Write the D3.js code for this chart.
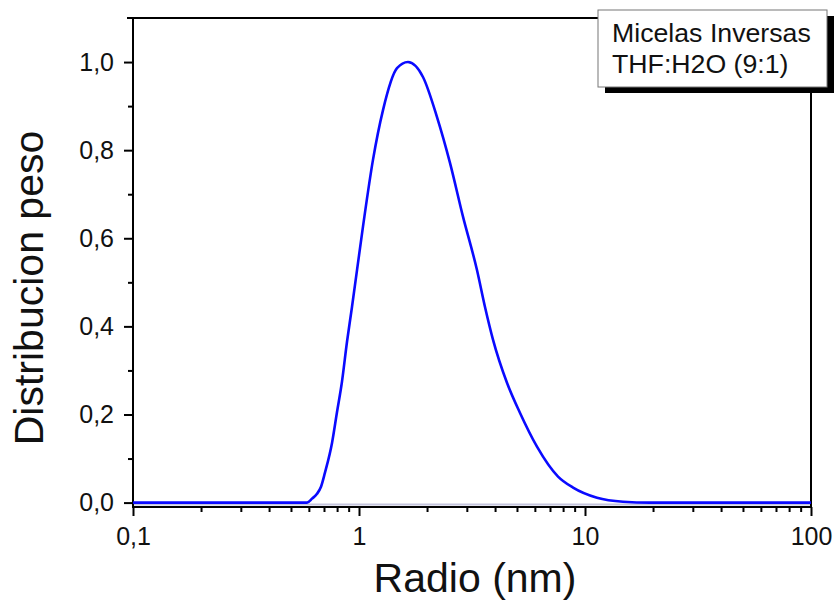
<!DOCTYPE html>
<html>
<head>
<meta charset="utf-8">
<script src="https://cdn.jsdelivr.net/npm/d3@7"></script>
<style>
  html, body { margin: 0; padding: 0; background: #fff; }
  svg { display: block; font-family: "Liberation Sans", Arial, sans-serif; }
</style>
</head>
<body>
<div id="chart"></div>
<script>
// datos (radio en nm, distribucion en peso normalizada)
const radius = [0.1, 0.3, 0.589, 0.620, 0.652, 0.679, 0.707, 0.760, 0.799, 0.841, 0.885, 0.931,
  1.041, 1.153, 1.277, 1.473, 1.647, 1.919, 2.214, 2.527, 2.885, 3.327, 3.61, 3.916,
  4.516, 5.153, 6.131, 7.598, 8.855, 11.30, 14.73, 19.4, 40, 100];
const weight = [0, 0, 0, 0.009, 0.020, 0.036, 0.068, 0.136, 0.205, 0.275, 0.365, 0.444,
  0.626, 0.778, 0.891, 0.986, 1.0, 0.966, 0.875, 0.771, 0.649, 0.528, 0.444, 0.370,
  0.272, 0.204, 0.127, 0.059, 0.034, 0.011, 0.002, 0, 0, 0];

const xMajor = [0.1, 1, 10, 100];
const xMajorLabels = ['0,1', '1', '10', '100'];
const yMajor = [0, 0.2, 0.4, 0.6, 0.8, 1.0];
const yMinor = [0.1, 0.3, 0.5, 0.7, 0.9];
const legendLines = ['Micelas Inversas', 'THF:H2O (9:1)'];

const width = 836, height = 600;
const margin = { top: 18, right: 25, bottom: 93, left: 133 };

const svg = d3.select('#chart').append('svg')
  .attr('width', width)
  .attr('height', height);

const x = d3.scaleLog().domain([0.1, 100]).range([margin.left, width - margin.right]);
const y = d3.scaleLinear().domain([-0.01, 1.1]).range([height - margin.bottom, margin.top]);

const xMinor = [];
[0.1, 1, 10].forEach(d => { for (let k = 2; k <= 9; k++) xMinor.push(d * k); });

// ejes
svg.append('g')
  .attr('transform', `translate(0,${height - margin.bottom})`)
  .call(d3.axisBottom(x).tickValues(xMajor).tickSize(9).tickPadding(11)
    .tickFormat((d, i) => xMajorLabels[i]));
svg.append('g')
  .attr('transform', `translate(0,${height - margin.bottom})`)
  .call(d3.axisBottom(x).tickValues(xMinor).tickSize(5).tickFormat(''));

svg.append('g')
  .attr('transform', `translate(${margin.left},0)`)
  .call(d3.axisLeft(y).tickValues(yMajor).tickSize(9).tickPadding(10)
    .tickFormat(d => d3.format('.1f')(d).replace('.', ',')));
svg.append('g')
  .attr('transform', `translate(${margin.left},0)`)
  .call(d3.axisLeft(y).tickValues(yMinor).tickSize(5).tickFormat(''));

svg.selectAll('.domain').remove();
svg.selectAll('.tick line').attr('stroke', '#000').attr('stroke-width', 2);
svg.selectAll('.tick text')
  .attr('fill', '#111')
  .style('font-size', '25px');

// marco
const x0 = margin.left, x1 = width - margin.right;
const y0 = margin.top, y1 = height - margin.bottom;
const frame = svg.append('g').attr('stroke', '#000').attr('stroke-width', 2);
frame.append('line').attr('x1', x0).attr('x2', x0).attr('y1', y0 - 1).attr('y2', y1 + 1);
frame.append('line').attr('x1', x0 - 1).attr('x2', x1 + 1).attr('y1', y1).attr('y2', y1);
frame.append('line').attr('x1', x0 - 6).attr('x2', 600).attr('y1', y0).attr('y2', y0);
frame.append('line').attr('x1', x1).attr('x2', x1).attr('y1', 90).attr('y2', y1 + 1);

// linea base tenue
svg.append('line')
  .attr('x1', x0 + 1).attr('x2', x1 - 1)
  .attr('y1', y(0) + 2).attr('y2', y(0) + 2)
  .attr('stroke', '#c4c4dc').attr('stroke-width', 2);

// curva
const pts = radius.map((r, i) => [x(r), y(weight[i])]);
svg.append('path')
  .datum(pts)
  .attr('fill', 'none')
  .attr('stroke', '#0a0aff')
  .attr('stroke-width', 2.6)
  .attr('d', d3.line().curve(d3.curveMonotoneX));

// titulos
svg.append('text')
  .attr('x', 475).attr('y', 592)
  .attr('text-anchor', 'middle')
  .style('font-size', '41px')
  .attr('fill', '#111')
  .text('Radio (nm)');

svg.append('text')
  .attr('transform', 'translate(43,288) rotate(-90)')
  .attr('text-anchor', 'middle')
  .style('font-size', '41px')
  .attr('fill', '#111')
  .text('Distribucion peso');

// leyenda
const lg = svg.append('g');
lg.append('rect').attr('x', 605).attr('y', 16).attr('width', 229).attr('height', 77).attr('fill', '#000');
lg.append('rect').attr('x', 598).attr('y', 10).attr('width', 229).attr('height', 77)
  .attr('fill', '#fff').attr('stroke', '#777').attr('stroke-width', 1);
lg.selectAll('text.leg')
  .data(legendLines)
  .join('text')
  .attr('class', 'leg')
  .attr('x', 612)
  .attr('y', (d, i) => 42 + i * 31)
  .style('font-size', '26.7px')
  .attr('fill', '#111')
  .text(d => d);
</script>
</body>
</html>
